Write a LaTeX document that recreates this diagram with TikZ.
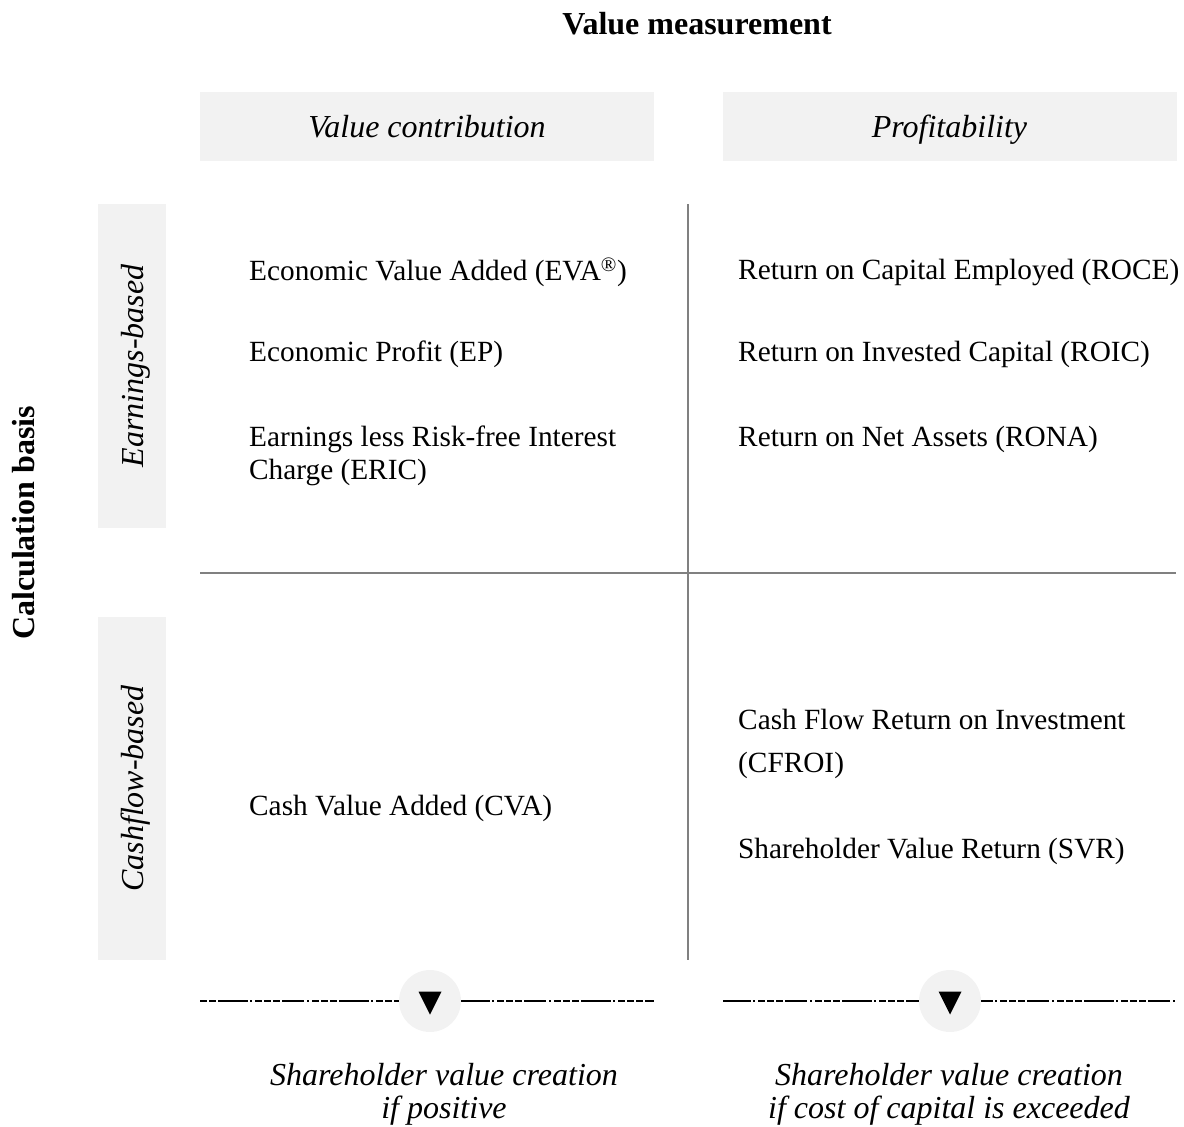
\documentclass[tikz,border=0pt]{standalone}
\usepackage{fontspec}
\setmainfont{Liberation Serif}
\definecolor{boxgray}{HTML}{F2F2F2}
\definecolor{linegray}{HTML}{808080}
\begin{document}
\begin{tikzpicture}[x=1pt,y=-1pt,
  every node/.style={font=\fontsize{29.3}{33}\selectfont, inner sep=0pt},
  hbox/.style={fill=boxgray, minimum width=454pt, minimum height=69pt, text height=28pt, text depth=7pt, font=\fontsize{32}{33}\selectfont\itshape},
  sbox/.style={fill=boxgray, rotate=90, text height=30pt, text depth=7pt, font=\fontsize{32}{33}\selectfont\itshape},
  item/.style={anchor=west, align=left},
  grid/.style={draw=linegray, line width=2pt},
  sepline/.style={line width=2pt, dash pattern=on 7pt off 2pt on 7pt off 2pt on 30pt off 2pt on 2pt off 3pt on 7pt off 2pt on 7pt off 2pt on 7pt off 2pt on 22pt off 3pt on 2pt off 3pt on 7pt off 2pt},
  circ/.style={circle, fill=boxgray, minimum size=62pt},
  foot/.style={align=center, font=\fontsize{32}{33}\selectfont\itshape}
]
\useasboundingbox (0,0) rectangle (1184,1127);
\node[font=\fontsize{32}{33}\selectfont\bfseries] (title) at (697,24) {Value measurement};
\node[hbox] (hvc) at (427,126.5) {Value contribution};
\node[hbox] (hpr) at (949.5,126.5) {Profitability};
\node[sbox, minimum width=324pt, minimum height=68pt] (searn) at (132,366) {Earnings-based};
\node[sbox, minimum width=343pt, minimum height=68pt] (scash) at (132,788.5) {Cashflow-based};
\node[rotate=90, font=\fontsize{32}{33}\selectfont\bfseries] (calc) at (24,523) {Calculation basis};
\coordinate (vtop) at (688,204);
\coordinate (vbot) at (688,960);
\coordinate (hleft) at (200,573);
\coordinate (hright) at (1176,573);
\draw[grid] (vtop) -- (vbot);
\draw[grid] (hleft) -- (hright);
\node[item] (eva) at (249,272) {Economic Value Added (EVA\textsuperscript{\textregistered})};
\node[item] (ep) at (249,354) {Economic Profit (EP)};
\node[item] (eric) at (249,456) {Earnings less Risk-free Interest\\Charge (ERIC)};
\node[item] (cva) at (249,808) {Cash Value Added (CVA)};
\node[item] (roce) at (738,272) {Return on Capital Employed (ROCE)};
\node[item] (roic) at (738,354) {Return on Invested Capital (ROIC)};
\node[item] (rona) at (738,439.5) {Return on Net Assets (RONA)};
\node[item, font=\fontsize{29.3}{43}\selectfont] (cfroi) at (738,743.5) {Cash Flow Return on Investment\\(CFROI)};
\node[item] (svr) at (738,851) {Shareholder Value Return (SVR)};
\coordinate (l1) at (200,1001);
\coordinate (r1) at (654,1001);
\coordinate (l2) at (723,1001);
\coordinate (r2) at (1176,1001);
\draw[sepline] (l1) -- (r1);
\draw[sepline, dash phase=20pt] (l2) -- (r2);
\node[circ] (c1) at (430,1001) {};
\node[circ] (c2) at (950,1001) {};
\fill (418.5,991.5) -- (441.5,991.5) -- (430,1014.5) -- cycle;
\fill (938.5,991.5) -- (961.5,991.5) -- (950,1014.5) -- cycle;
\node[foot] (f1) at (444,1094) {Shareholder value creation\\if positive};
\node[foot] (f2) at (949,1094) {Shareholder value creation\\if cost of capital is exceeded};
\end{tikzpicture}
\end{document}
